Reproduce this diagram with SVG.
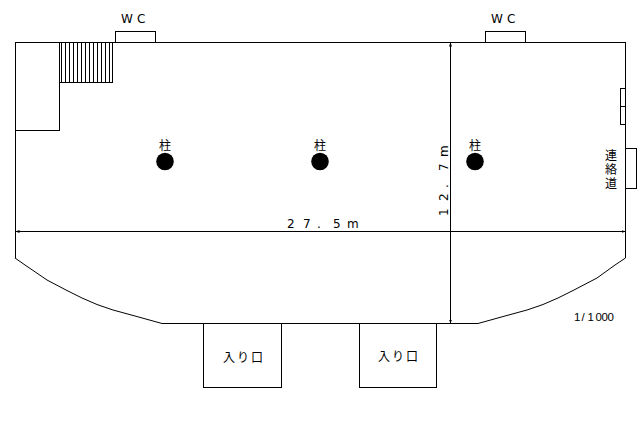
<svg xmlns="http://www.w3.org/2000/svg" width="640" height="448" viewBox="0 0 640 448">
<style>
.w{fill:none;stroke:#000;stroke-width:1;shape-rendering:crispEdges}
.c{fill:none;stroke:#000;stroke-width:1}
.t{font-family:"Noto Sans CJK JP","Liberation Sans",sans-serif;font-size:12px;fill:#000}
.l{font-family:"DejaVu Sans","Liberation Sans",sans-serif;font-size:12px;fill:#000}
.s{font-family:"Liberation Sans",sans-serif;font-size:11.5px;fill:#000}
.p{fill:#000}
</style>
<defs>
<marker id="a" markerWidth="5" markerHeight="5" refX="4" refY="2.5" orient="auto-start-reverse" markerUnits="userSpaceOnUse"><path d="M0 1L4 2.5L0 4Z" fill="#000"/></marker>
</defs>
<rect width="640" height="448" fill="#fff"/>
<g id="hall">
<path class="w" d="M15.5 258V42.5H625.5V258"/>
<path class="w" d="M162 323.5H478"/>
<path class="c" d="M15 258L25 265L47 280L66 290L82 298L97 304.5L113 310L135 316L162 323.5M478 323.5L505 316L527 310L543 304.5L558 298L574 290L597 278L615 265L625.5 258"/>
</g>
<g id="room"><path class="w" d="M15.5 130.5H59.5V42.5"/></g>
<g id="stairs"><path class="w" d="M59.5 82.5H112.5V42.5M61.5 42.5V82.5M65.5 42.5V82.5M69.5 42.5V82.5M73.5 42.5V82.5M77.5 42.5V82.5M81.5 42.5V82.5M85.5 42.5V82.5M89.5 42.5V82.5M93.5 42.5V82.5M97.5 42.5V82.5M101.5 42.5V82.5M105.5 42.5V82.5M109.5 42.5V82.5"/></g>
<g id="wc1"><rect class="w" x="115.5" y="31.5" width="40" height="11"/><text class="l" x="121 137" y="23">WC</text></g>
<g id="wc2"><rect class="w" x="485.5" y="31.5" width="40" height="11"/><text class="l" x="491 507" y="23">WC</text></g>
<g id="pillar1"><circle class="p" cx="165" cy="161.5" r="8.8"/><text class="t" x="165" y="149.5" text-anchor="middle">柱</text></g>
<g id="pillar2"><circle class="p" cx="320" cy="161.5" r="8.8"/><text class="t" x="320" y="149.5" text-anchor="middle">柱</text></g>
<g id="pillar3"><circle class="p" cx="475" cy="161.5" r="8.8"/><text class="t" x="475" y="149.5" text-anchor="middle">柱</text></g>
<g id="side"><path class="w" d="M625.5 88.5H620.5V124.5H625.5M620.5 106.5H625.5"/></g>
<g id="corridor"><path class="w" d="M625.5 148.5H636.5V188.5H625.5"/>
<text class="t" x="605 605 605" y="159.5 173.5 187.5">連絡道</text></g>
<g id="entrance1"><path class="w" d="M203.5 323.5V387.5H281.5V323.5"/><text class="t" x="223 237 251" y="362">入り口</text></g>
<g id="entrance2"><path class="w" d="M359.5 323.5V387.5H436.5V323.5"/><text class="t" x="378 392 406" y="361">入り口</text></g>
<g id="connectors">
<path class="w" d="M15.5 231.5H625.5" marker-start="url(#a)" marker-end="url(#a)"/>
<path class="w" d="M450.5 42.5V323.5" marker-start="url(#a)" marker-end="url(#a)"/>
</g>
<text class="l" x="287 303 317 333 347" y="228">27.5m</text>
<text class="l" transform="translate(448 216) rotate(-90)" x="0 15 28 45 59" y="0">12.7m</text>
<text class="s" x="574 581.5 587.5 595.5 601.5 607.5" y="321">1/1000</text>
</svg>
